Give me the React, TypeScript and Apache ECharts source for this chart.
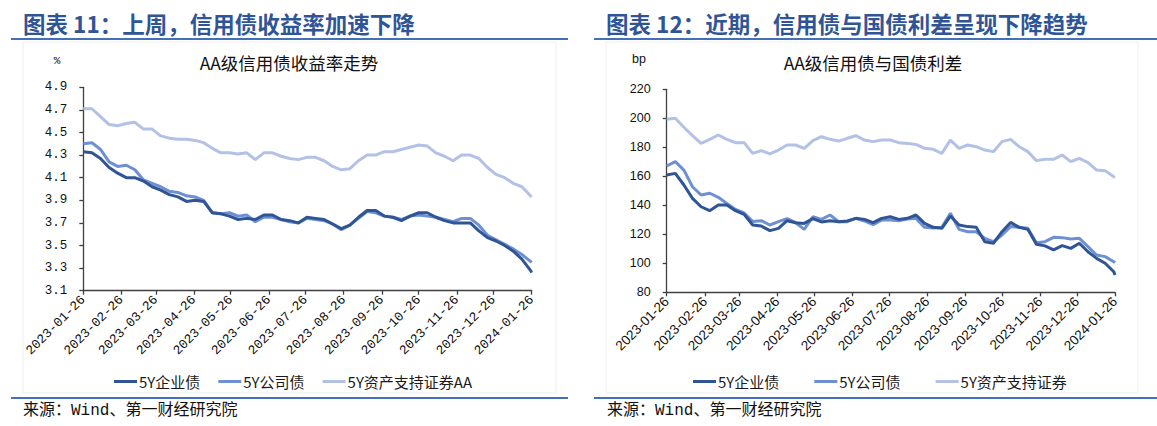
import React, { useEffect, useRef } from "react";
import * as echarts from "echarts";

// ---------- data ----------
const dates = [
  "2023-01-26", "2023-02-02", "2023-02-09", "2023-02-16", "2023-02-23", "2023-03-02", "2023-03-09", "2023-03-16",
  "2023-03-23", "2023-03-30", "2023-04-06", "2023-04-13", "2023-04-20", "2023-04-27", "2023-05-04", "2023-05-11",
  "2023-05-18", "2023-05-25", "2023-06-01", "2023-06-08", "2023-06-15", "2023-06-22", "2023-06-29", "2023-07-06",
  "2023-07-13", "2023-07-20", "2023-07-27", "2023-08-03", "2023-08-10", "2023-08-17", "2023-08-24", "2023-08-31",
  "2023-09-07", "2023-09-14", "2023-09-21", "2023-09-28", "2023-10-05", "2023-10-12", "2023-10-19", "2023-10-26",
  "2023-11-02", "2023-11-09", "2023-11-16", "2023-11-23", "2023-11-30", "2023-12-07", "2023-12-14", "2023-12-21",
  "2023-12-28", "2024-01-04", "2024-01-11", "2024-01-18", "2024-01-25", "2024-01-26",
];

const tickDates = [
  "2023-01-26", "2023-02-26", "2023-03-26", "2023-04-26", "2023-05-26", "2023-06-26", "2023-07-26",
  "2023-08-26", "2023-09-26", "2023-10-26", "2023-11-26", "2023-12-26", "2024-01-26",
];

const leftTitle = "图表 11：上周，信用债收益率加速下降";
const rightTitle = "图表 12：近期，信用债与国债利差呈现下降趋势";
const leftChartTitle = "AA级信用债收益率走势";
const rightChartTitle = "AA级信用债与国债利差";
const sourceText = "来源：Wind、第一财经研究院";

const leftNames = ["5Y企业债", "5Y公司债", "5Y资产支持证券AA"];
const rightNames = ["5Y企业债", "5Y公司债", "5Y资产支持证券"];

const leftYTicks = [3.1, 3.3, 3.5, 3.7, 3.9, 4.1, 4.3, 4.5, 4.7, 4.9];
const rightYTicks = [80, 100, 120, 140, 160, 180, 200, 220];

// 收益率 (%)
const yieldCorp = [
  4.33, 4.32, 4.27, 4.19, 4.14, 4.10, 4.10, 4.07, 4.02, 3.99, 3.95, 3.93, 3.89, 3.90, 3.89, 3.79, 3.78, 3.76,
  3.73, 3.74, 3.73, 3.77, 3.77, 3.73, 3.72, 3.70, 3.75, 3.74, 3.73, 3.69, 3.65, 3.68, 3.75, 3.81, 3.81, 3.76,
  3.75, 3.72, 3.76, 3.79, 3.79, 3.75, 3.72, 3.70, 3.70, 3.70, 3.63, 3.57, 3.54, 3.50, 3.45, 3.38, 3.28, 3.26,
];
const yieldCompany = [
  4.40, 4.41, 4.35, 4.24, 4.20, 4.21, 4.17, 4.08, 4.05, 4.02, 3.98, 3.97, 3.94, 3.93, 3.90, 3.79, 3.78, 3.79,
  3.76, 3.77, 3.71, 3.75, 3.75, 3.73, 3.71, 3.70, 3.74, 3.73, 3.72, 3.69, 3.64, 3.68, 3.74, 3.80, 3.79, 3.76,
  3.75, 3.73, 3.76, 3.77, 3.76, 3.75, 3.73, 3.71, 3.74, 3.74, 3.68, 3.59, 3.55, 3.51, 3.47, 3.42, 3.36, 3.35,
];
const yieldABS = [
  4.71, 4.71, 4.64, 4.57, 4.56, 4.58, 4.59, 4.53, 4.53, 4.47, 4.45, 4.44, 4.44, 4.43, 4.41, 4.36, 4.32, 4.32,
  4.31, 4.32, 4.26, 4.32, 4.32, 4.29, 4.27, 4.26, 4.28, 4.28, 4.25, 4.20, 4.17, 4.18, 4.25, 4.30, 4.30, 4.33,
  4.33, 4.35, 4.37, 4.39, 4.38, 4.32, 4.29, 4.25, 4.30, 4.30, 4.27, 4.19, 4.13, 4.10, 4.05, 4.02, 3.94, 3.93,
];

// 利差 (bp)
const spreadCorp = [
  160.9, 162.0, 154.0, 144.8, 139.0, 136.3, 140.2, 140.2, 136.3, 133.8, 126.4, 125.7, 122.5, 124.1, 129.4, 128.0,
  127.5, 130.8, 128.5, 129.4, 128.7, 129.2, 131.0, 130.3, 128.0, 131.0, 132.1, 130.3, 131.0, 133.3, 127.5, 124.8,
  124.1, 132.6, 126.4, 125.3, 124.8, 114.9, 113.8, 121.8, 128.2, 124.8, 123.4, 113.1, 112.0, 109.2, 112.2, 110.3,
  113.8, 108.0, 103.4, 100.0, 94.2, 91.9,
];
const spreadCompany = [
  167.1, 170.1, 164.3, 152.8, 147.1, 148.3, 145.5, 141.3, 137.2, 134.7, 128.9, 129.4, 126.4, 128.7, 130.8, 128.0,
  123.4, 132.1, 130.3, 133.3, 128.7, 128.7, 131.0, 129.2, 126.6, 129.8, 129.8, 129.4, 130.5, 131.0, 124.8, 124.3,
  124.8, 134.5, 123.4, 121.8, 121.8, 117.2, 114.9, 119.5, 125.3, 124.8, 124.1, 114.2, 114.9, 117.9, 117.7, 116.8,
  117.2, 111.5, 105.7, 104.6, 101.1, 100.4,
];
const spreadABS = [
  199.3, 200.0, 193.8, 188.0, 182.7, 185.5, 188.5, 185.5, 183.2, 183.2, 175.8, 177.7, 175.4, 178.1, 181.6, 181.6,
  179.3, 184.6, 187.3, 185.5, 184.3, 186.2, 188.0, 185.0, 183.9, 185.0, 185.0, 183.2, 182.7, 182.0, 179.3, 178.6,
  175.8, 185.0, 179.3, 181.6, 180.4, 178.1, 177.0, 183.9, 185.5, 180.4, 177.0, 170.8, 171.7, 171.7, 174.7, 170.1,
  172.4, 169.4, 164.3, 163.9, 159.7, 159.3,
];

// ---------- styles ----------
const C_DARK = "#2F5597";
const C_MID = "#6E90D3";
const C_LIGHT = "#B2C1E5";
const TITLE_COLOR = "#2F5597";
const RULE_COLOR = "#4470B8";
const AXIS_COLOR = "#404040";
const CJK = '"Noto Sans CJK SC", "Noto Sans", sans-serif';
const MONO = '"Liberation Mono", "DejaVu Sans Mono", monospace';
const SANS = '"Liberation Sans", Arial, sans-serif';

const DAY = 86400000;
function utc(s: string): number {
  const [y, m, d] = s.split("-").map(Number);
  return Date.UTC(y, m - 1, d);
}
const ORIGIN = utc(dates[0]);
// day offset from the first date (x position on a linear day axis)
function dayOf(s: string): number {
  return Math.round((utc(s) - ORIGIN) / DAY);
}
function fmtDay(v: number): string {
  const d = new Date(ORIGIN + Math.round(v) * DAY);
  const mm = String(d.getUTCMonth() + 1).padStart(2, "0");
  const dd = String(d.getUTCDate()).padStart(2, "0");
  return `${d.getUTCFullYear()}-${mm}-${dd}`;
}

export default function App() {
  const ref = useRef<HTMLDivElement>(null);

  useEffect(() => {
    if (!ref.current) return;
    const chart = echarts.init(ref.current, null, { renderer: "svg" });
    const tickDays = tickDates.map(dayOf);
    const pairs = (vals: number[]) => dates.map((d, i) => [dayOf(d), vals[i]]);

    const xAxisBase = (gridIndex: number, font: string, size: number) => ({
      type: "value",
      gridIndex,
      min: tickDays[0],
      max: tickDays[tickDays.length - 1],
      axisLine: { show: true, onZero: false, lineStyle: { color: AXIS_COLOR, width: 1.3 } },
      axisTick: { show: true, length: 4, lineStyle: { color: AXIS_COLOR, width: 1.3 }, customValues: tickDays },
      axisLabel: {
        customValues: tickDays,
        rotate: 45,
        margin: 7,
        color: "#111",
        fontFamily: font,
        fontSize: size,
        showMinLabel: true,
        showMaxLabel: true,
        formatter: (v: number) => fmtDay(v),
      },
      splitLine: { show: false },
    });

    const lineSeries = (name: string, color: string, x: number, vals: number[], z: number) => ({
      type: "line",
      name,
      xAxisIndex: x,
      yAxisIndex: x,
      data: pairs(vals),
      symbol: "none",
      showSymbol: false,
      lineStyle: { color, width: 3 },
      itemStyle: { color },
      z,
    });

    const legendBase = {
      orient: "horizontal",
      itemWidth: 23,
      itemHeight: 3,
      icon: "rect",
      textStyle: { fontFamily: CJK, fontSize: 15, color: "#1a1a1a", padding: [0, 0, 0, -3] },
      selectedMode: false,
    };

    const txt = (x: number, y: number, text: string, extra: any) => ({
      type: "text",
      x,
      y,
      silent: true,
      style: {
        text,
        fill: "#111",
        align: "left",
        verticalAlign: "middle",
        textAlign: "left",
        textVerticalAlign: "middle",
        ...extra,
      },
    });

    const option: any = {
      animation: false,
      backgroundColor: "#ffffff",
      grid: [
        { left: 83.3, top: 87.3, width: 448.4, height: 203.4, containLabel: false },
        { left: 666.7, top: 89.3, width: 448.3, height: 203, containLabel: false },
      ],
      xAxis: [xAxisBase(0, MONO, 13), xAxisBase(1, SANS, 13.5)],
      yAxis: [
        {
          type: "value",
          gridIndex: 0,
          min: 3.1,
          max: 4.9,
          axisLine: { show: true, lineStyle: { color: AXIS_COLOR, width: 1.3 } },
          axisTick: { show: true, length: 4, lineStyle: { color: AXIS_COLOR, width: 1.3 }, customValues: leftYTicks },
          axisLabel: {
            customValues: leftYTicks,
            margin: 16,
            color: "#111",
            fontFamily: MONO,
            fontSize: 12.5,
            formatter: (v: number) => v.toFixed(1),
          },
          splitLine: { show: false },
        },
        {
          type: "value",
          gridIndex: 1,
          min: rightYTicks[0],
          max: rightYTicks[rightYTicks.length - 1],
          interval: 20,
          axisLine: { show: true, lineStyle: { color: AXIS_COLOR, width: 1.3 } },
          axisTick: { show: true, length: 4, lineStyle: { color: AXIS_COLOR, width: 1.3 } },
          axisLabel: { margin: 16, color: "#111", fontFamily: SANS, fontSize: 12.5 },
          splitLine: { show: false },
        },
      ],
      legend: [
        { ...legendBase, data: leftNames, left: 109, top: 369, itemGap: 18 },
        { ...legendBase, data: rightNames, left: 688, top: 369, itemGap: 35 },
      ],
      series: [
        lineSeries(leftNames[2], C_LIGHT, 0, yieldABS, 2),
        lineSeries(leftNames[1], C_MID, 0, yieldCompany, 3),
        lineSeries(leftNames[0], C_DARK, 0, yieldCorp, 4),
        lineSeries(rightNames[2], C_LIGHT, 1, spreadABS, 2),
        lineSeries(rightNames[1], C_MID, 1, spreadCompany, 3),
        lineSeries(rightNames[0], C_DARK, 1, spreadCorp, 4),
      ],
      graphic: [
        { type: "rect", silent: true, shape: { x: 23, y: 42, width: 533, height: 351 }, style: { fill: "none", stroke: "#eeeeee", lineWidth: 1 } },
        { type: "rect", silent: true, shape: { x: 606, y: 42, width: 532, height: 351 }, style: { fill: "none", stroke: "#eeeeee", lineWidth: 1 } },
        { type: "line", silent: true, shape: { x1: 11, y1: 39, x2: 568, y2: 39 }, style: { stroke: RULE_COLOR, lineWidth: 2 } },
        { type: "line", silent: true, shape: { x1: 594, y1: 39, x2: 1157, y2: 39 }, style: { stroke: RULE_COLOR, lineWidth: 2 } },
        { type: "line", silent: true, shape: { x1: 11, y1: 398, x2: 568, y2: 398 }, style: { stroke: RULE_COLOR, lineWidth: 2 } },
        { type: "line", silent: true, shape: { x1: 594, y1: 398, x2: 1157, y2: 398 }, style: { stroke: RULE_COLOR, lineWidth: 2 } },
        txt(23, 23, leftTitle, { fill: TITLE_COLOR, fontFamily: CJK, fontSize: 22.5, fontWeight: "bold" }),
        txt(606, 23, rightTitle, { fill: TITLE_COLOR, fontFamily: CJK, fontSize: 22.5, fontWeight: "bold" }),
        txt(289, 62, leftChartTitle, { fontFamily: CJK, fontSize: 17.5, align: "center", textAlign: "center" }),
        txt(873, 62, rightChartTitle, { fontFamily: CJK, fontSize: 17.5, align: "center", textAlign: "center" }),
        txt(57, 61, "%", { fontFamily: MONO, fontSize: 11, align: "center", textAlign: "center" }),
        txt(639, 59, "bp", { fontFamily: SANS, fontSize: 12.5, align: "center", textAlign: "center" }),
        txt(23, 411, sourceText, { fontFamily: '"Liberation Mono", "Noto Sans CJK SC", monospace', fontSize: 16 }),
        txt(607, 411, sourceText, { fontFamily: '"Liberation Mono", "Noto Sans CJK SC", monospace', fontSize: 16 }),
      ],
    };

    chart.setOption(option);
    return () => chart.dispose();
  }, []);

  return (
    <div
      ref={ref}
      style={{ position: "fixed", left: 0, top: 0, width: 1157, height: 426, background: "#ffffff" }}
    />
  );
}
